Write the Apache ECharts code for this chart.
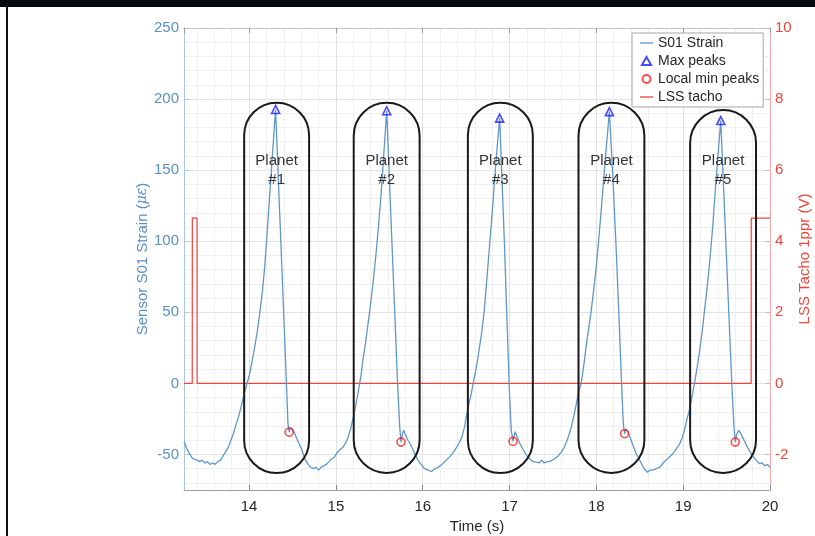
<!DOCTYPE html>
<html>
<head>
<meta charset="utf-8">
<script src="https://cdn.jsdelivr.net/npm/echarts@6/dist/echarts.min.js"></script>
<style>
  html, body { margin: 0; padding: 0; background: #fff; }
  #chart { width: 815px; height: 536px; }
</style>
</head>
<body>
<div id="chart"></div>
<script>
// strain signal, [time s, strain µε]
const strain = [
  [13.25,-41],[13.27,-44],[13.29,-47],[13.31,-49],[13.33,-51],[13.35,-53],[13.37,-52],[13.40,-54],[13.43,-55],[13.46,-54],
  [13.49,-56],[13.52,-55],[13.55,-57],[13.58,-56],[13.61,-57],[13.64,-55],[13.67,-54],[13.70,-51],[13.73,-48],[13.76,-45],
  [13.79,-40],[13.82,-35],[13.85,-29],[13.88,-23],[13.91,-16],[13.94,-8],[13.975,0],[14.00,5],[14.036,16],[14.06,24],
  [14.09,35],[14.12,48],[14.15,63],[14.18,82],[14.21,108],[14.24,135],[14.27,162],[14.305,192.7],[14.33,154],[14.36,108],
  [14.39,62],[14.43,0],[14.447,-28],[14.462,-34.3],[14.475,-31],[14.49,-29.6],[14.51,-33],[14.53,-36],[14.55,-39],[14.58,-43],
  [14.61,-47],[14.63,-51],[14.65,-54],[14.68,-57],[14.71,-59],[14.74,-60],[14.77,-59],[14.80,-61],[14.83,-59],[14.86,-58],
  [14.89,-57],[14.92,-55],[14.95,-53],[14.98,-52],[15.01,-49],[15.04,-47],[15.08,-45],[15.11,-42],[15.14,-38],[15.17,-32],
  [15.20,-24],[15.23,-15],[15.26,-5],[15.29,6],[15.31,16],[15.34,28],[15.37,42],[15.40,56],[15.43,72],[15.46,90],
  [15.49,110],[15.52,133],[15.55,160],[15.585,191.8],[15.61,153],[15.64,107],[15.675,54],[15.71,0],[15.735,-31],[15.75,-41.3],
  [15.765,-36],[15.78,-33],[15.80,-36],[15.83,-40],[15.86,-43],[15.89,-47],[15.92,-51],[15.945,-54],[15.98,-57],[16.02,-60],
  [16.06,-61],[16.10,-62],[16.14,-60],[16.18,-59],[16.22,-57],[16.27,-54],[16.32,-51],[16.37,-47],[16.41,-43],[16.45,-38],
  [16.48,-31],[16.50,-24],[16.53,-15],[16.56,-7],[16.59,3],[16.62,12],[16.65,24],[16.68,36],[16.71,52],[16.75,82],
  [16.79,112],[16.83,145],[16.86,168],[16.886,186.6],[16.91,148],[16.94,100],[16.97,45],[17.00,-8],[17.02,-33],[17.04,-40.8],
  [17.052,-37],[17.065,-34],[17.09,-38],[17.12,-42.5],[17.15,-46],[17.17,-48],[17.20,-51],[17.23,-53],[17.27,-55],[17.31,-55.4],
  [17.34,-56],[17.37,-54],[17.40,-56],[17.43,-55],[17.46,-55],[17.48,-54],[17.52,-53],[17.56,-51],[17.60,-48],[17.63,-45],
  [17.67,-39],[17.71,-31],[17.74,-23],[17.77,-14],[17.80,-5],[17.825,0],[17.86,15],[17.88,25],[17.91,38],[17.94,51],
  [17.97,66],[18.00,83],[18.03,103],[18.06,125],[18.09,148],[18.12,170],[18.15,191.2],[18.19,145],[18.23,92],[18.265,40],
  [18.29,0],[18.31,-28],[18.325,-35.4],[18.34,-32],[18.35,-31.5],[18.37,-35],[18.40,-40],[18.43,-45],[18.46,-49.5],[18.49,-53],
  [18.52,-56.5],[18.55,-60],[18.59,-62.5],[18.62,-61],[18.65,-61],[18.69,-60],[18.73,-59],[18.77,-56],[18.80,-54],[18.84,-52],
  [18.88,-49.5],[18.92,-46],[18.96,-42.5],[18.99,-38],[19.015,-33],[19.04,-26],[19.07,-19],[19.10,-10],[19.13,0],[19.16,11],
  [19.19,23],[19.22,37],[19.245,51],[19.27,64],[19.30,82],[19.34,110],[19.37,136],[19.40,160],[19.433,184.9],[19.47,131],
  [19.50,87],[19.53,43],[19.56,0],[19.585,-31],[19.60,-41.3],[19.615,-36],[19.64,-33],[19.66,-35],[19.685,-38],[19.71,-41],
  [19.74,-45],[19.77,-48],[19.80,-51],[19.84,-54],[19.88,-56.5],[19.91,-56],[19.94,-58],[19.97,-57],[20.0,-59]
];

// tacho pulse, [time s, volts]
const tacho = [
  [13.25,0],[13.345,0],[13.346,4.65],[13.40,4.65],[13.401,0],[19.783,0],[19.784,4.65],[20,4.65]
];

const maxPeaks = [[14.305,192.7],[15.585,191.8],[16.886,186.6],[18.15,191.2],[19.433,184.9]];
const minPeaks = [[14.462,-34.3],[15.75,-41.3],[17.04,-40.8],[18.325,-35.4],[19.60,-41.3]];

// planet windows: [t start, t end, strain top, strain bottom]
const planetBoxes = [
  [13.943,14.691,197.4,-63],
  [15.205,15.964,197.4,-63],
  [16.520,17.268,197.4,-63],
  [17.794,18.553,197.4,-63],
  [19.080,19.839,192.3,-63]
];
const planetLabels = ['Planet\n#1','Planet\n#2','Planet\n#3','Planet\n#4','Planet\n#5'];
const labelLevel = 150;

const blueText = '#5a8fc3';
const redText = '#f0443c';
const font = 'Liberation Sans';
const lineIcon = 'path://M0,0H20V2H0Z';
const triIcon = 'path://M4,0L8,7H0Z';

const chart = echarts.init(document.getElementById('chart'));

chart.setOption({
  animation: false,
  backgroundColor: '#fff',
  textStyle: { fontFamily: font },
  graphic: [
    { type: 'rect', shape: { x: 0, y: 0, width: 815, height: 7 }, style: { fill: '#060a10' }, silent: true },
    { type: 'rect', shape: { x: 6, y: 7, width: 2, height: 529 }, style: { fill: '#111' }, silent: true }
  ],
  grid: { left: 184, right: 45, top: 28, bottom: 46, containLabel: false, outerBoundsMode: 'none' },
  legend: {
    left: 632, top: 33,
    orient: 'vertical',
    backgroundColor: '#fff',
    borderColor: '#a6a6a6',
    borderWidth: 1,
    padding: [3, 4, 3, 8],
    itemGap: 4,
    itemWidth: 13,
    itemHeight: 8,
    symbolKeepAspect: true,
    textStyle: { fontSize: 14, color: '#262626', fontFamily: font },
    data: [
      { name: 'S01 Strain', icon: lineIcon, itemStyle: { color: '#5f97c9', borderWidth: 0 } },
      { name: 'Max peaks', icon: triIcon },
      { name: 'Local min peaks', icon: 'circle' },
      { name: 'LSS tacho', icon: lineIcon, itemStyle: { color: '#f2403c', borderWidth: 0 } }
    ]
  },
  xAxis: [{
    type: 'value', min: 13.25, max: 20, splitNumber: 7,
    name: 'Time (s)', nameLocation: 'middle', nameGap: 28,
    nameTextStyle: { fontSize: 15, color: '#262626', fontFamily: font },
    axisLine: { onZero: false, lineStyle: { color: '#a0a0a0' } },
    axisTick: { inside: true, length: 5, lineStyle: { color: '#888' } },
    axisLabel: {
      fontSize: 15, color: '#262626', margin: 9, showMinLabel: false,
      formatter: v => Number.isInteger(v) ? String(v) : ''
    },
    splitLine: { lineStyle: { color: '#e2e2e2' } },
    minorTick: { show: false, splitNumber: 5 },
    minorSplitLine: { show: true, lineStyle: { color: '#f0f0f0' } }
  }, {
    type: 'value', min: 13.25, max: 20, splitNumber: 7, position: 'top',
    axisLine: { onZero: false, lineStyle: { color: '#c4c4c4' } },
    axisTick: { inside: true, length: 5, lineStyle: { color: '#999' } },
    axisLabel: { show: false },
    splitLine: { show: false }
  }],
  yAxis: [{
    type: 'value', min: -75, max: 250, splitNumber: 6, position: 'left',
    name: 'Sensor S01 Strain ({i|με})', nameLocation: 'middle', nameGap: 34, nameRotate: 90,
    nameMoveOverlap: false,
    nameTextStyle: {
      fontSize: 15, color: blueText, fontFamily: font,
      rich: { i: { fontSize: 14, color: blueText, fontStyle: 'italic', fontFamily: 'DejaVu Serif' } }
    },
    axisLine: { show: true, onZero: false, lineStyle: { color: '#a9c6e4' } },
    axisTick: { show: true, inside: true, length: 5, lineStyle: { color: '#a9c6e4' } },
    axisLabel: {
      fontSize: 15, color: blueText, margin: 5, showMinLabel: false,
      formatter: v => v % 50 === 0 ? String(v) : ''
    },
    splitLine: { lineStyle: { color: '#e2e2e2' } },
    minorTick: { show: false, splitNumber: 5 },
    minorSplitLine: { show: true, lineStyle: { color: '#f0f0f0' } }
  }, {
    type: 'value', min: -3, max: 10, splitNumber: 6, position: 'right',
    name: 'LSS Tacho 1ppr (V)', nameLocation: 'middle', nameGap: 27, nameRotate: 90,
    nameMoveOverlap: false,
    nameTextStyle: { fontSize: 15, color: redText, fontFamily: font },
    axisLine: { show: true, onZero: false, lineStyle: { color: '#f6aaaa' } },
    axisTick: { show: true, inside: true, length: 5, lineStyle: { color: '#f6aaaa' } },
    axisLabel: {
      fontSize: 15, color: redText, margin: 5, showMinLabel: false,
      formatter: v => v % 2 === 0 ? String(v) : ''
    },
    splitLine: { show: false }
  }],
  series: [
    {
      name: 'S01 Strain', type: 'line', data: strain,
      xAxisIndex: 0, yAxisIndex: 0,
      symbol: 'none', z: 3,
      color: '#5f97c9',
      lineStyle: { color: '#5f97c9', width: 1.3 }
    },
    {
      name: 'Max peaks', type: 'scatter', data: maxPeaks,
      xAxisIndex: 0, yAxisIndex: 0,
      symbol: 'triangle', symbolSize: 8, z: 6,
      itemStyle: { color: 'rgba(0,0,0,0)', borderColor: '#1c1cff', borderWidth: 1.6 }
    },
    {
      name: 'Local min peaks', type: 'scatter', data: minPeaks,
      xAxisIndex: 0, yAxisIndex: 0,
      symbol: 'circle', symbolSize: 8, z: 6,
      itemStyle: { color: 'rgba(0,0,0,0)', borderColor: '#ff1f1f', borderWidth: 1.6 }
    },
    {
      name: 'LSS tacho', type: 'line', data: tacho,
      xAxisIndex: 0, yAxisIndex: 1,
      symbol: 'none', z: 2,
      color: '#f2403c',
      lineStyle: { color: '#f2403c', width: 1.2 }
    },
    {
      name: 'planets', type: 'custom', data: planetBoxes,
      xAxisIndex: 0, yAxisIndex: 0, z: 5, silent: true,
      encode: { x: [0, 1], y: [2, 3] },
      renderItem: (params, api) => {
        const p0 = api.coord([api.value(0), api.value(2)]);
        const p1 = api.coord([api.value(1), api.value(3)]);
        const w = p1[0] - p0[0];
        const h = p1[1] - p0[1];
        const c = api.coord([(api.value(0) + api.value(1)) / 2, labelLevel]);
        return {
          type: 'group',
          children: [{
            type: 'rect',
            shape: { x: p0[0], y: p0[1], width: w, height: h, r: w / 2 },
            style: { fill: 'none', stroke: '#1a1a1a', lineWidth: 2 }
          }, {
            type: 'text',
            x: c[0], y: c[1],
            style: {
              text: planetLabels[params.dataIndex],
              fill: '#333', font: '15px "Liberation Sans"',
              align: 'center', verticalAlign: 'middle', lineHeight: 19
            }
          }]
        };
      }
    }
  ]
});
</script>
</body>
</html>
